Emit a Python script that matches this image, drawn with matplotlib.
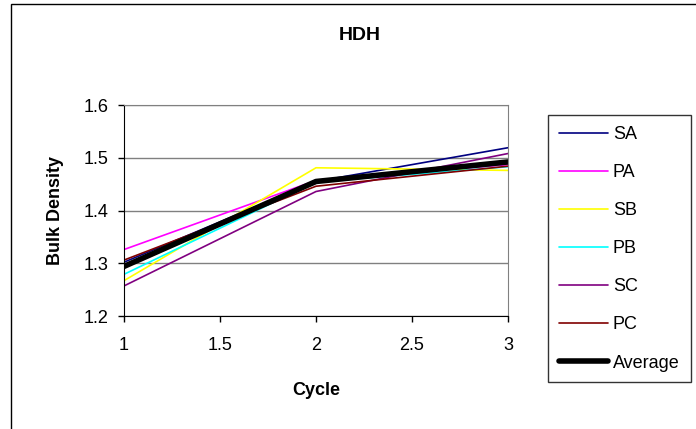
import matplotlib.pyplot as plt
from matplotlib.patches import Rectangle

plt.rcParams['font.family'] = ['Liberation Sans', 'DejaVu Sans']

cycles = [1, 2, 3]
series_names = ["SA", "PA", "SB", "PB", "SC", "PC", "Average"]
SA = [1.302, 1.455, 1.519]
PA = [1.326, 1.457, 1.487]
SB = [1.267, 1.481, 1.476]
PB = [1.279, 1.454, 1.483]
SC = [1.257, 1.436, 1.508]
PC = [1.306, 1.446, 1.484]
Average = [1.294, 1.455, 1.492]
colors = ["#000080", "#ff00ff", "#ffff00", "#00ffff", "#800080", "#800000", "#000000"]
widths = [1.2, 1.2, 1.2, 1.2, 1.2, 1.2, 4]

W, H = 696, 429
fig = plt.figure(figsize=(W / 100, H / 100), dpi=100)
ax = fig.add_axes([124 / W, 1 - 316 / H, (508 - 124) / W, (316 - 105) / H])

data = [SA, PA, SB, PB, SC, PC, Average]
for name, vals, c, lw in zip(series_names, data, colors, widths):
    ax.plot(cycles, vals, color=c, lw=lw, label=name, solid_capstyle='round')

ax.set_xlim(1, 3)
ax.set_ylim(1.2, 1.6)
ax.set_xticks([1, 1.5, 2, 2.5, 3])
ax.set_xticklabels(["1", "1.5", "2", "2.5", "3"])
ax.set_yticks([1.2, 1.3, 1.4, 1.5, 1.6])
ax.grid(axis='y', color='#808080', lw=1)
ax.set_axisbelow(True)
ax.tick_params(labelsize=13, length=4, width=1, direction='out')
ax.tick_params(axis='x', pad=11)
ax.tick_params(axis='y', pad=7)
ax.spines['left'].set_color('black')
ax.spines['bottom'].set_color('black')
ax.spines['top'].set_color('#808080')
ax.spines['right'].set_color('#808080')
ax.set_xlabel("Cycle", fontsize=13, fontweight='bold', labelpad=20)
ax.set_ylabel("Bulk Density", fontsize=13, fontweight='bold', labelpad=14)

fig.text(360 / W, 1 - 35 / H, "HDH", fontsize=14, fontweight='bold', ha='center', va='center')

leg = fig.legend(loc='upper left', bbox_to_anchor=(548 / W, 1 - 115 / H), fontsize=13,
                 frameon=True, fancybox=False, edgecolor='black', labelspacing=1.17,
                 handlelength=2.7, handletextpad=0.3, borderpad=0.6, borderaxespad=0)
leg.get_frame().set_linewidth(1)

fig.patches.append(Rectangle((11 / W, -0.05), 1.1, 1 - 4 / H + 0.05, transform=fig.transFigure,
                             fill=False, edgecolor='black', lw=1))

fig.savefig("out.png", dpi=100)
